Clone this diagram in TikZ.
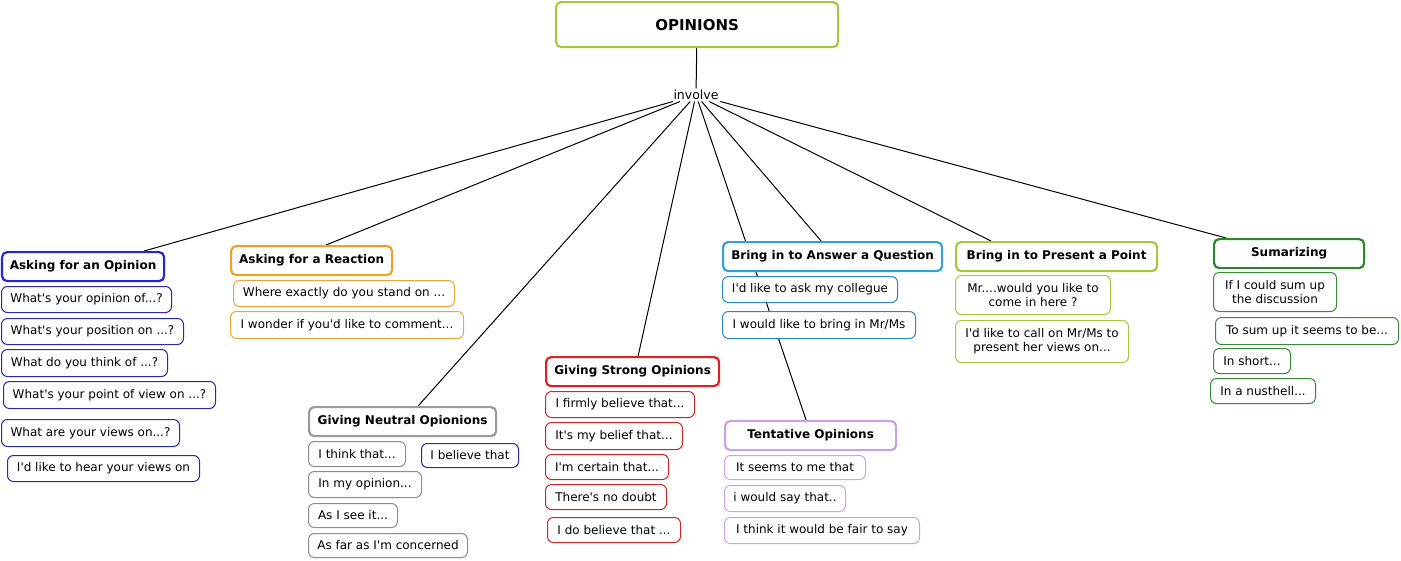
\documentclass[tikz,border=0pt]{standalone}
\usepackage{fontspec}
\setmainfont{DejaVu Sans}
\usetikzlibrary{backgrounds}
\newcommand\sqt{\textquotesingle}
\definecolor{cOp}{HTML}{A5C83C}
\definecolor{cAopH}{HTML}{2424E0}
\definecolor{cAop}{HTML}{2A2AA8}
\definecolor{cReaH}{HTML}{F0A028}
\definecolor{cRea}{HTML}{E8A838}
\definecolor{cNeuH}{HTML}{9A9A9A}
\definecolor{cNeu}{HTML}{8C8C8C}
\definecolor{cStrH}{HTML}{E02020}
\definecolor{cStr}{HTML}{C82828}
\definecolor{cAnsH}{HTML}{30A0E0}
\definecolor{cAns}{HTML}{2888C8}
\definecolor{cTen}{HTML}{C8A0F0}
\definecolor{cPre}{HTML}{A5C83C}
\definecolor{cSumH}{HTML}{2A8A2A}
\definecolor{cSum}{HTML}{3A8A3A}
\tikzset{
  hdr/.style={draw=#1, fill=white, line width=2.2pt, rounded corners=5pt,
    font=\bfseries\fontsize{12}{14}\selectfont, anchor=north west, inner sep=0pt},
  itm/.style={draw=#1, fill=white, line width=1pt, rounded corners=6pt,
    font=\fontsize{12}{14}\selectfont, anchor=north west, inner sep=0pt, align=center},
  link/.style={draw=black, line width=1pt},
}
\begin{document}
\begin{tikzpicture}[x=1pt,y=-1pt]
\useasboundingbox (0,0) rectangle (1401,560);
% root
\node[hdr=cOp, minimum width=282, minimum height=45, font=\bfseries\fontsize{15}{17}\selectfont] (op) at (555,1) {OPINIONS};
\node[font=\fontsize{12.5}{14}\selectfont, inner sep=1.5pt] (inv) at (696,95) {involve};
% Asking for an Opinion
\node[hdr=cAopH, minimum width=162, minimum height=29] (aop) at (1,251) {Asking for an Opinion};
\node[itm=cAop, minimum width=170, minimum height=26] (aop1) at (1,286) {What\sqt s your opinion of...?};
\node[itm=cAop, minimum width=182, minimum height=26] (aop2) at (1,318) {What\sqt s your position on ...?};
\node[itm=cAop, minimum width=166, minimum height=27] (aop3) at (1,349) {What do you think of ...?};
\node[itm=cAop, minimum width=212, minimum height=27] (aop4) at (3,381) {What\sqt s your point of view on ...?};
\node[itm=cAop, minimum width=178, minimum height=27] (aop5) at (1,419) {What are your views on...?};
\node[itm=cAop, minimum width=192, minimum height=26] (aop6) at (7,455) {I\sqt d like to hear your views on};
% Asking for a Reaction
\node[hdr=cReaH, minimum width=161, minimum height=29] (rea) at (230,245) {Asking for a Reaction};
\node[itm=cRea, minimum width=221, minimum height=26] (rea1) at (233,280) {Where exactly do you stand on ...};
\node[itm=cRea, minimum width=233, minimum height=27] (rea2) at (230,311) {I wonder if you\sqt d like to comment...};
% Giving Neutral Opinions
\node[hdr=cNeuH, minimum width=187, minimum height=29] (neu) at (308,406) {Giving Neutral Opionions};
\node[itm=cNeu, minimum width=97, minimum height=25] (neu1) at (308,441) {I think that...};
\node[itm=cAop, minimum width=97, minimum height=24] (neu2) at (421,443) {I believe that};
\node[itm=cNeu, minimum width=113, minimum height=26] (neu3) at (308,471) {In my opinion...};
\node[itm=cNeu, minimum width=89, minimum height=24] (neu4) at (308,503) {As I see it...};
\node[itm=cNeu, minimum width=159, minimum height=24] (neu5) at (308,533) {As far as I\sqt m concerned};
% Giving Strong Opinions
\node[hdr=cStrH, minimum width=173, minimum height=29] (str) at (545,356) {Giving Strong Opinions};
\node[itm=cStr, minimum width=149, minimum height=26] (str1) at (545,391) {I firmly believe that...};
\node[itm=cStr, minimum width=137, minimum height=27] (str2) at (545,422) {It\sqt s my belief that...};
\node[itm=cStr, minimum width=123, minimum height=25] (str3) at (545,454) {I\sqt m certain that...};
\node[itm=cStr, minimum width=121, minimum height=25] (str4) at (545,484) {There\sqt s no doubt};
\node[itm=cStr, minimum width=133, minimum height=25] (str5) at (547,517) {I do believe that ...};
% Bring in to Answer a Question
\node[hdr=cAnsH, minimum width=219, minimum height=29] (ans) at (722,241) {Bring in to Answer a Question};
\node[itm=cAns, minimum width=175, minimum height=26] (ans1) at (722,276) {I\sqt d like to ask my collegue};
\node[itm=cAns, minimum width=193, minimum height=27] (ans2) at (722,311) {I would like to bring in Mr/Ms};
% Tentative Opinions
\node[hdr=cTen, minimum width=171, minimum height=29] (ten) at (724,420) {Tentative Opinions};
\node[itm=cTen, minimum width=141, minimum height=24] (ten1) at (724,455) {It seems to me that};
\node[itm=cTen, minimum width=121, minimum height=26] (ten2) at (724,485) {i would say that..};
\node[itm=cTen, minimum width=195, minimum height=26] (ten3) at (724,517) {I think it would be fair to say};
% Bring in to Present a Point
\node[hdr=cPre, minimum width=201, minimum height=29] (pre) at (955,241) {Bring in to Present a Point};
\node[itm=cPre, minimum width=155, minimum height=39] (pre1) at (955,275) {Mr....would you like to\\come in here ?};
\node[itm=cPre, minimum width=173, minimum height=42] (pre2) at (955,320) {I\sqt d like to call on Mr/Ms to\\present her views on...};
% Sumarizing
\node[hdr=cSumH, minimum width=150, minimum height=29] (sum) at (1213,238) {Sumarizing};
\node[itm=cSum, minimum width=123, minimum height=39] (sum1) at (1213,272) {If I could sum up\\the discussion};
\node[itm=cSum, minimum width=183, minimum height=27] (sum2) at (1215,317) {To sum up it seems to be...};
\node[itm=cSum, minimum width=77, minimum height=25] (sum3) at (1213,348) {In short...};
\node[itm=cSum, minimum width=105, minimum height=25] (sum4) at (1210,378) {In a nusthell...};
% connectors
\begin{scope}[on background layer]
\draw[link] (op) -- (inv);
\draw[link] (inv) -- ([xshift=61pt]aop.north);
\draw[link] (inv) -- ([xshift=14.5pt]rea.north);
\draw[link] (inv) -- ([xshift=15.5pt]neu.north);
\draw[link] (inv) -- ([xshift=5.5pt]str.north);
\draw[link] (inv) -- ([xshift=-11.5pt]ans.north);
\draw[link] (inv) -- ([xshift=-4.5pt]ten.north);
\draw[link] (inv) -- ([xshift=-65.5pt]pre.north);
\draw[link] (inv) -- ([xshift=-63pt]sum.north);
\end{scope}
\end{tikzpicture}
\end{document}
